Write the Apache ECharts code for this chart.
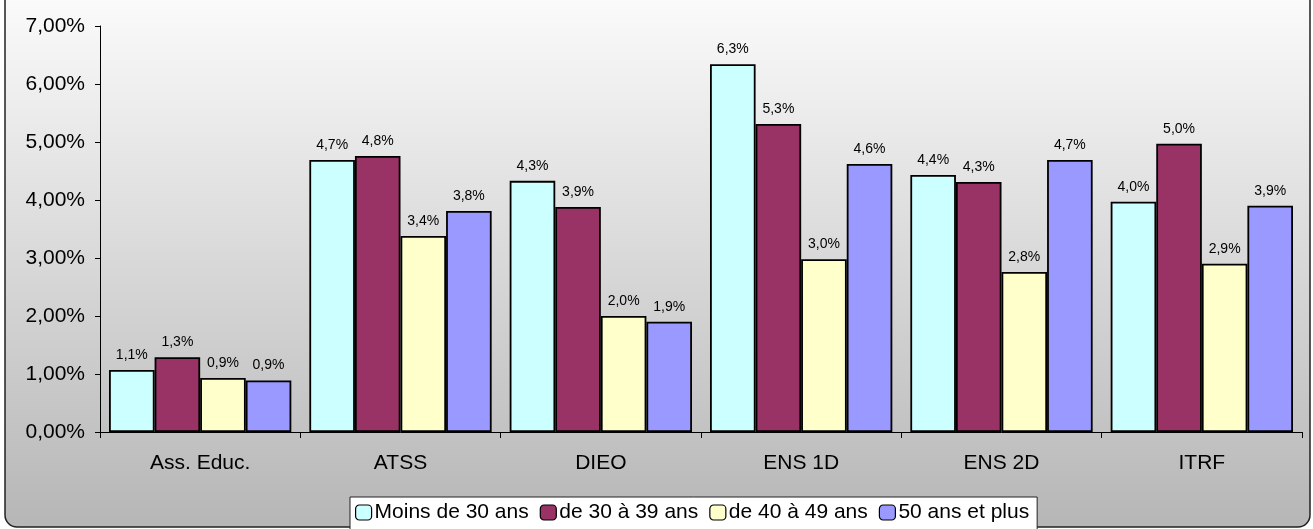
<!DOCTYPE html>
<html>
<head>
<meta charset="utf-8">
<script src="https://cdn.jsdelivr.net/npm/echarts@6/dist/echarts.min.js"></script>
<style>
  html, body { margin: 0; padding: 0; background: #fff; }
  #chart { width: 1313px; height: 529px; }
</style>
</head>
<body>
<div id="chart"></div>
<script>
var categories = ["Ass. Educ.", "ATSS", "DIEO", "ENS 1D", "ENS 2D", "ITRF"];
var seriesNames = ["Moins de 30 ans", "de 30 à 39 ans", "de 40 à 49 ans", "50 ans et plus"];
var moins30 = [1.07, 4.69, 4.33, 6.34, 4.43, 3.97];
var de30a39 = [1.29, 4.76, 3.88, 5.31, 4.31, 4.97];
var de40a49 = [0.93, 3.38, 2.00, 2.98, 2.76, 2.90];
var plus50 = [0.89, 3.81, 1.90, 4.62, 4.69, 3.90];
var colors = ["#CCFFFF", "#993366", "#FFFFCC", "#9999FF"];

var dom = document.getElementById("chart");
var myChart = echarts.init(dom);
var font = "'Liberation Sans', Arial, sans-serif";

function makeSeries(name, data, color) {
    return {
        name: name,
        type: 'bar',
        data: data,
        barGap: '0%',
        barCategoryGap: '9%',
        itemStyle: { color: color, borderColor: '#000', borderWidth: 1.8 },
        label: {
            show: true,
            position: 'top',
            distance: 8,
            fontSize: 14,
            fontFamily: font,
            color: '#000',
            formatter: function (p) { return p.value.toFixed(1).replace('.', ',') + '%'; }
        }
    };
}

var option = {
    animation: false,
    textStyle: { fontFamily: font },
    graphic: [{
        type: 'rect',
        silent: true,
        z: -10,
        shape: { x: 5, y: -12, width: 1305, height: 539, r: 12 },
        style: {
            fill: new echarts.graphic.LinearGradient(0, 0, 0, 1, [
                { offset: 0, color: '#fcfcfc' },
                { offset: 1, color: '#b6b6b6' }
            ]),
            stroke: '#222',
            lineWidth: 1.5
        }
    }],
    grid: { left: 100, right: 11, top: 26, bottom: 97 },
    legend: {
        top: 497,
        left: 350,
        data: seriesNames,
        itemWidth: 16,
        itemHeight: 15,
        itemGap: 11,
        padding: [5, 8, 12, 5],
        backgroundColor: '#fff',
        borderColor: '#222',
        borderWidth: 1,
        itemStyle: { borderColor: '#000', borderWidth: 1.2 },
        textStyle: { fontSize: 21, fontFamily: font, color: '#000', padding: [0, 0, 0, -2] }
    },
    xAxis: {
        type: 'category',
        data: categories,
        axisLine: { lineStyle: { color: '#000', width: 1 } },
        axisTick: { show: true, alignWithLabel: false, length: 6, lineStyle: { color: '#000' } },
        axisLabel: { fontSize: 21, color: '#000', margin: 21, fontFamily: font }
    },
    yAxis: {
        type: 'value',
        min: 0,
        max: 7,
        interval: 1,
        splitLine: { show: false },
        axisLine: { show: true, lineStyle: { color: '#000', width: 1 } },
        axisTick: { show: true, length: 5, lineStyle: { color: '#000' } },
        axisLabel: {
            fontSize: 21, color: '#000', margin: 15, fontFamily: font,
            formatter: function (v) { return v.toFixed(2).replace('.', ',') + '%'; }
        }
    },
    series: [
        makeSeries(seriesNames[0], moins30, colors[0]),
        makeSeries(seriesNames[1], de30a39, colors[1]),
        makeSeries(seriesNames[2], de40a49, colors[2]),
        makeSeries(seriesNames[3], plus50, colors[3])
    ]
};

if (option && typeof option === "object") {
    myChart.setOption(option, true);
}
</script>
</body>
</html>
